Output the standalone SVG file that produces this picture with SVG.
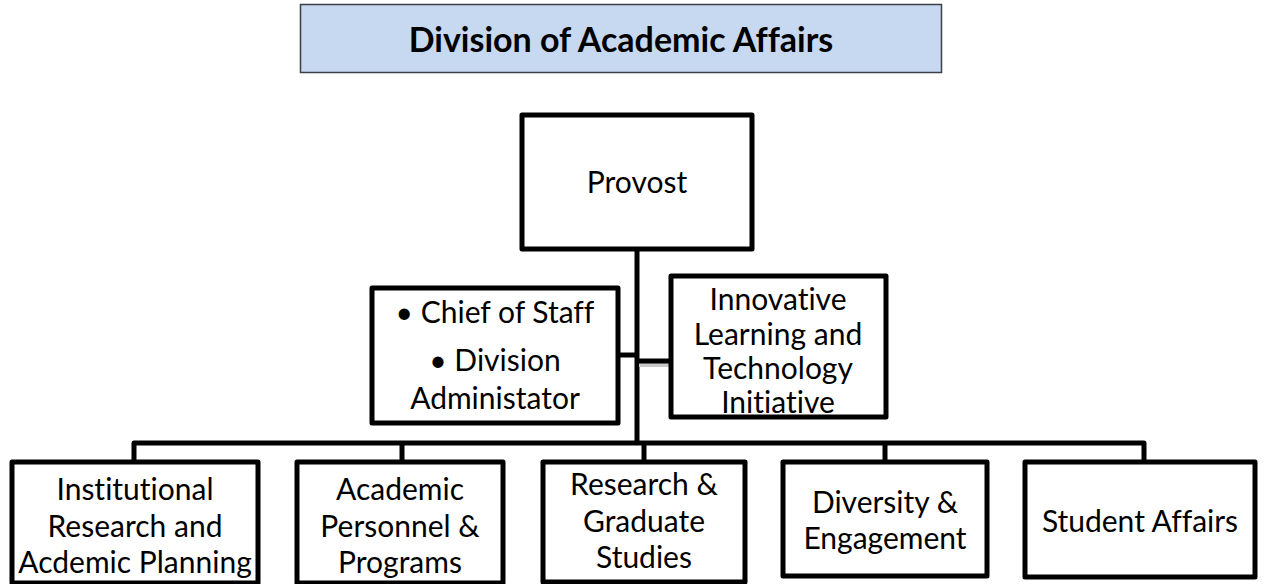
<svg xmlns="http://www.w3.org/2000/svg" width="1265" height="584" viewBox="0 0 1265 584">
  <style>
    .box { fill: #ffffff; stroke: #000000; stroke-width: 5; stroke-linejoin: round; }
    .line { fill: none; stroke: #000000; stroke-width: 5; stroke-linecap: butt; stroke-linejoin: round; }
    .lbl { font-family: Lato, "Open Sans", "Liberation Sans", sans-serif; font-size: 30px; fill: #000000; text-anchor: middle; font-variant-ligatures: none; }
    .title { font-family: Lato, "Open Sans", "Liberation Sans", sans-serif; font-size: 34px; font-weight: bold; fill: #000000; text-anchor: middle; font-variant-ligatures: none; }
  </style>

  <!-- heading banner -->
  <g id="title">
    <rect x="300.5" y="4.5" width="641" height="68" fill="#c6d9f0" stroke="#3a3f48" stroke-width="1.5"/>
    <text class="title" x="621" y="52">Division of Academic Affairs</text>
  </g>

  <!-- connectors -->
  <g id="connectors">
    <line class="line" x1="637" y1="249" x2="637" y2="443"/>
    <line class="line" x1="618" y1="355" x2="637" y2="355"/>
    <line x1="639" y1="365" x2="670" y2="365" stroke="#c8c8c8" stroke-width="4"/>
    <line class="line" x1="637" y1="361" x2="672" y2="361"/>
    <polyline class="line" points="134,462 134,443 1144,443 1144,462"/>
    <line class="line" x1="402" y1="443" x2="402" y2="462"/>
    <line class="line" x1="644" y1="443" x2="644" y2="462"/>
    <line class="line" x1="885" y1="443" x2="885" y2="462"/>
  </g>

  <g id="provost">
    <rect class="box" x="522" y="115" width="230" height="134"/>
    <text class="lbl" x="637" y="193">Provost</text>
  </g>

  <g id="chief-of-staff">
    <rect class="box" x="372" y="288" width="246" height="135"/>
    <text class="lbl" x="495" y="323">• Chief of Staff</text>
    <text class="lbl" x="495" y="371">• Division</text>
    <text class="lbl" x="495" y="409">Administator</text>
  </g>

  <g id="innovative-learning">
    <rect class="box" x="671" y="276" width="215" height="141"/>
    <text class="lbl" x="778" y="310">Innovative</text>
    <text class="lbl" x="778" y="345">Learning and</text>
    <text class="lbl" x="778" y="379">Technology</text>
    <text class="lbl" x="778" y="413">Initiative</text>
  </g>

  <g id="institutional-research">
    <rect class="box" x="12" y="462" width="246" height="121"/>
    <text class="lbl" x="135" y="500">Institutional</text>
    <text class="lbl" x="135" y="537">Research and</text>
    <text class="lbl" x="135" y="573">Acdemic Planning</text>
  </g>

  <g id="academic-personnel">
    <rect class="box" x="297" y="462" width="206" height="121"/>
    <text class="lbl" x="400" y="500">Academic</text>
    <text class="lbl" x="400" y="537">Personnel &amp;</text>
    <text class="lbl" x="400" y="573">Programs</text>
  </g>

  <g id="research-graduate">
    <rect class="box" x="543" y="462" width="202" height="120"/>
    <text class="lbl" x="644" y="495">Research &amp;</text>
    <text class="lbl" x="644" y="532">Graduate</text>
    <text class="lbl" x="644" y="568">Studies</text>
  </g>

  <g id="diversity-engagement">
    <rect class="box" x="783" y="462" width="204" height="114"/>
    <text class="lbl" x="885" y="513">Diversity &amp;</text>
    <text class="lbl" x="885" y="549">Engagement</text>
  </g>

  <g id="student-affairs">
    <rect class="box" x="1025" y="462" width="230" height="115"/>
    <text class="lbl" x="1140" y="532">Student Affairs</text>
  </g>
</svg>
